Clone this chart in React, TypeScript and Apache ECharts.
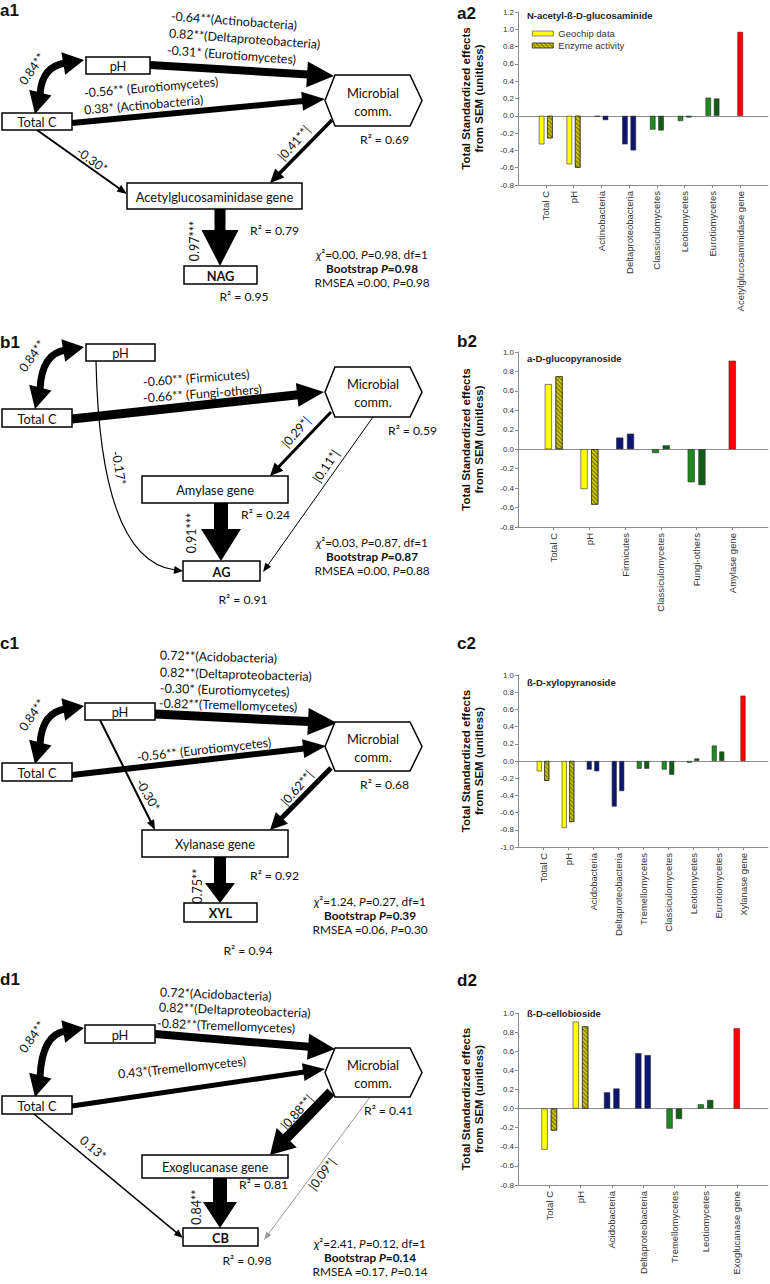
import React, { useEffect, useRef } from 'react';
import * as echarts from 'echarts';

// ---------- DATA ----------
const catsA = ['Total C', 'pH', 'Actinobacteria', 'Deltaproteobacteria', 'Classiculomycetes', 'Leotiomycetes', 'Eurotiomycetes', 'Acetylglucosaminidase gene'];
const typesA = ['env', 'env', 'bac', 'bac', 'fun', 'fun', 'fun', 'gene'];
const geoA = [-0.33, -0.56, -0.01, -0.33, -0.16, -0.06, 0.21, 0.97];
const enzA = [-0.26, -0.6, -0.05, -0.4, -0.17, -0.02, 0.2, null];

const catsB = ['Total C', 'pH', 'Firmicutes', 'Classiculomycetes', 'Fungi-others', 'Amylase gene'];
const typesB = ['env', 'env', 'bac', 'fun', 'fun', 'gene'];
const geoB = [0.67, -0.41, 0.12, -0.04, -0.34, 0.91];
const enzB = [0.75, -0.57, 0.16, 0.04, -0.37, null];

const catsC = ['Total C', 'pH', 'Acidobacteria', 'Deltaproteobacteria', 'Tremellomycetes', 'Classiculomycetes', 'Leotiomycetes', 'Eurotiomycetes', 'Xylanase gene'];
const typesC = ['env', 'env', 'bac', 'bac', 'fun', 'fun', 'fun', 'fun', 'gene'];
const geoC = [-0.12, -0.78, -0.1, -0.53, -0.09, -0.1, -0.02, 0.18, 0.76];
const enzC = [-0.23, -0.71, -0.12, -0.35, -0.09, -0.16, 0.03, 0.11, null];

const catsD = ['Total C', 'pH', 'Acidobacteria', 'Deltaproteobacteria', 'Tremellomycetes', 'Leotiomycetes', 'Exoglucanase gene'];
const typesD = ['env', 'env', 'bac', 'bac', 'fun', 'fun', 'gene'];
const geoD = [-0.43, 0.91, 0.17, 0.58, -0.21, 0.045, 0.84];
const enzD = [-0.23, 0.86, 0.21, 0.56, -0.11, 0.09, null];

const titles = ['N-acetyl-ß-D-glucosaminide', 'a-D-glucopyranoside', 'ß-D-xylopyranoside', 'ß-D-cellobioside'];
const yMin = [-0.8, -0.8, -1.0, -0.8];
const yMax = [1.2, 1.0, 1.0, 1.0];

// ---------- STYLE ----------
const AF = '"Liberation Sans", Arial, sans-serif';
const FONT = 'Lato, "Open Sans", sans-serif';
const GEO: any = { env: '#FFFF00', bac: '#0B1670', fun: '#1F8A1F' };
const ENZ: any = { env: '#C9C300', bac: '#0B1670', fun: '#0F5E14' };
const HATCH = { symbol: 'rect', symbolSize: 1, color: 'rgba(40,40,0,0.55)', dashArrayX: [1, 0], dashArrayY: [1, 1.6], rotation: Math.PI / 4 };

const grids = [
  { top: 12, height: 173 },
  { top: 352, height: 175 },
  { top: 675, height: 172 },
  { top: 1013, height: 172 },
];
const titleTops = [10, 353, 677, 1008];

// ---------- DIAGRAM HELPERS ----------
function T(x: number, y: number, text: string, o: any = {}) {
  return {
    type: 'text', x, y, rotation: o.rot || 0, z: 20,
    style: {
      text, fontFamily: o.ff || FONT, fontSize: o.size || 12.5, fontWeight: o.bold ? 'bold' : 'normal',
      fill: '#111', align: o.align || 'center', verticalAlign: 'middle', rich: o.rich,
    },
  };
}
function box(x: number, y: number, w: number, h: number, label: string, bold = false) {
  return [
    { type: 'rect', z: 10, shape: { x, y, width: w, height: h }, style: { fill: '#fff', stroke: '#000', lineWidth: 1.5 } },
    T(x + w / 2, y + h / 2 + 0.5, label, { size: 12.8, bold }),
  ];
}
function hexagon(top: number, bot: number) {
  const m = (top + bot) / 2;
  return [
    { type: 'polygon', z: 10, shape: { points: [[335, top], [410, top], [422, m], [410, bot], [335, bot], [325, m]] }, style: { fill: '#fff', stroke: '#000', lineWidth: 1.5 } },
    T(373, m - 8, 'Microbial', { size: 12.8 }),
    T(373, m + 10, 'comm.', { size: 12.8 }),
  ];
}
function head(tx: number, ty: number, dx: number, dy: number, hl: number, hw: number, color = '#000') {
  const L = Math.hypot(dx, dy); const ux = dx / L; const uy = dy / L;
  const bx = tx - ux * hl; const by = ty - uy * hl; const px = -uy; const py = ux;
  return { type: 'polygon', z: 5, shape: { points: [[tx, ty], [bx + px * hw / 2, by + py * hw / 2], [bx - px * hw / 2, by - py * hw / 2]] }, style: { fill: color } };
}
function arrow(x1: number, y1: number, x2: number, y2: number, lw: number, hl: number, hw: number, color = '#000') {
  const dx = x2 - x1; const dy = y2 - y1; const L = Math.hypot(dx, dy); const ux = dx / L; const uy = dy / L;
  const bx = x2 - ux * (hl - 1); const by = y2 - uy * (hl - 1);
  return [
    { type: 'line', z: 5, shape: { x1, y1, x2: bx, y2: by }, style: { stroke: color, lineWidth: lw } },
    head(x2, y2, dx, dy, hl, hw, color),
  ];
}
function dbl(t1x: number, t1y: number, t2x: number, t2y: number) {
  const s = [t1x - 18, t1y + 3];
  const e = [t2x + 5, t2y - 20];
  return [
    { type: 'bezierCurve', z: 5, shape: { x1: s[0], y1: s[1], x2: e[0], y2: e[1], cpx1: e[0] + 2, cpy1: s[1] + 3 }, style: { stroke: '#000', lineWidth: 7, fill: null } },
    head(t1x, t1y, 1, -0.17, 21, 23),
    head(t2x, t2y, -0.25, 1, 22, 23),
    T(t1x - 52, t1y + 9, '0.84**', { rot: 0.95 }),
  ];
}
function stats(cx: number, y: number, chi: string, p1: string, pb: string, rm: string, p2: string) {
  const fs = 11.8;
  const rich = {
    n: { fontFamily: FONT, fontSize: fs, fill: '#111' },
    i: { fontFamily: FONT, fontSize: fs, fontStyle: 'italic', fill: '#111' },
    b: { fontFamily: FONT, fontSize: fs, fontWeight: 'bold', fill: '#111' },
    bi: { fontFamily: FONT, fontSize: fs, fontWeight: 'bold', fontStyle: 'italic', fill: '#111' },
  };
  return [
    T(cx, y, `{i|χ}{n|²=${chi}, }{i|P}{n|=${p1}, df=1}`, { rich }),
    T(cx, y + 14, `{b|Bootstrap }{bi|P}{b|=${pb}}`, { rich }),
    T(cx, y + 28, `{n|RMSEA =${rm}, }{i|P}{n|=${p2}}`, { rich }),
  ];
}
const lab = (x: number, y: number, t: string) => T(x, y, t, { ff: AF, size: 17, bold: true, align: 'left' });
const R2 = (x: number, y: number, t: string, align = 'left') => T(x, y, t, { size: 12.2, align });

function diagram() {
  const el: any[] = [];
  // panel labels
  el.push(lab(0, 10, 'a1'), lab(457, 13, 'a2'), lab(0, 342, 'b1'), lab(457, 341, 'b2'), lab(0, 643, 'c1'), lab(457, 643, 'c2'), lab(0, 979, 'd1'), lab(457, 980, 'd2'));

  // ---- a1 ----
  el.push(...dbl(84, 60, 35, 114));
  el.push(...arrow(150, 65, 334, 76, 8, 27, 26));
  el.push(...arrow(72, 123, 325, 99, 6, 23, 19));
  el.push(...arrow(37, 130, 127, 194, 2, 10, 8));
  el.push(...arrow(332, 120, 270, 183, 3.5, 14, 13));
  el.push(...arrow(220, 209, 220, 266, 11, 36, 37));
  el.push(...box(86, 57, 64, 17, 'pH'), ...box(2, 113, 70, 17, 'Total C'), ...hexagon(75, 126));
  el.push(...box(127, 183, 175, 26, 'Acetylglucosaminidase gene'), ...box(184, 266, 73, 18, 'NAG', true));
  el.push(T(171, 16, '-0.64**(Actinobacteria)', { align: 'left', rot: -0.075 }));
  el.push(T(169, 33, '0.82**(Deltaproteobacteria)', { align: 'left', rot: -0.075 }));
  el.push(T(167, 50, '-0.31* (Eurotiomycetes)', { align: 'left', rot: -0.075 }));
  el.push(T(84, 93, '-0.56** (Eurotiomycetes)', { align: 'left', rot: 0.085 }));
  el.push(T(84, 110, '0.38* (Actinobacteria)', { align: 'left', rot: 0.085 }));
  el.push(T(92, 160, '-0.30*', { rot: -0.62 }));
  el.push(T(294, 143, '|0.41**|', { rot: 0.85 }));
  el.push(T(194, 241, '0.97***', { rot: Math.PI / 2 }));
  el.push(R2(360, 139, 'R² = 0.69'));
  el.push(R2(250, 230, 'R² = 0.79'));
  el.push(R2(244, 296, 'R² = 0.95', 'center'));
  el.push(...stats(372, 254, '0.00', '0.98', '0.98', '0.00', '0.98'));

  // ---- b1 ----
  el.push(...dbl(84, 347, 35, 409));
  el.push(...arrow(72, 419, 324, 392, 9, 27, 24));
  el.push({ type: 'bezierCurve', z: 5, shape: { x1: 96, y1: 361, x2: 175, y2: 570, cpx1: 100, cpy1: 560 }, style: { stroke: '#000', lineWidth: 1.2, fill: null } });
  el.push(head(183, 571, 1, 0.12, 9, 8));
  el.push(...arrow(331, 412, 270, 476, 3, 13, 12));
  el.push(...arrow(373, 417, 263, 572, 1, 9, 7));
  el.push(...arrow(221, 503, 221, 561, 14, 32, 40));
  el.push(...box(86, 344, 69, 17, 'pH'), ...box(2, 409, 70, 18, 'Total C'), ...hexagon(367, 417));
  el.push(...box(142, 476, 146, 27, 'Amylase gene'), ...box(183, 561, 77, 20, 'AG', true));
  el.push(T(143, 382, '-0.60** (Firmicutes)', { align: 'left', rot: 0.075 }));
  el.push(T(143, 398, '-0.66** (Fungi-others)', { align: 'left', rot: 0.075 }));
  el.push(T(119, 468, '-0.17*', { rot: -1.4 }));
  el.push(T(296, 432, '|0.29*|', { rot: 0.85 }));
  el.push(T(326, 466, '|0.11*|', { rot: 0.97 }));
  el.push(T(191, 533, '0.91***', { rot: Math.PI / 2 }));
  el.push(R2(388, 430, 'R² = 0.59'));
  el.push(R2(241, 514, 'R² = 0.24'));
  el.push(R2(243, 599, 'R² = 0.91', 'center'));
  el.push(...stats(372, 542, '0.03', '0.87', '0.87', '0.00', '0.88'));

  // ---- c1 ----
  el.push(...dbl(84, 706, 35, 764));
  el.push(...arrow(155, 714, 337, 723, 9, 29, 27));
  el.push(...arrow(72, 775, 326, 746, 6, 23, 19));
  el.push(...arrow(100, 720, 155, 830, 2, 10, 8));
  el.push(...arrow(331, 768, 270, 830, 5, 17, 17));
  el.push(...arrow(220, 857, 220, 903, 12, 20, 30));
  el.push(...box(85, 703, 70, 17, 'pH'), ...box(2, 763, 70, 18, 'Total C'), ...hexagon(722, 771));
  el.push(...box(142, 830, 146, 27, 'Xylanase gene'), ...box(184, 903, 73, 19, 'XYL', true));
  el.push(T(160, 655, '0.72**(Acidobacteria)', { align: 'left', rot: -0.03 }));
  el.push(T(160, 672, '0.82**(Deltaproteobacteria)', { align: 'left', rot: -0.03 }));
  el.push(T(160, 688, '-0.30* (Eurotiomycetes)', { align: 'left', rot: -0.03 }));
  el.push(T(159, 703, '-0.82**(Tremellomycetes)', { align: 'left', rot: -0.03 }));
  el.push(T(137, 757, '-0.56** (Eurotiomycetes)', { align: 'left', rot: 0.11 }));
  el.push(T(148, 795, '-0.30*', { rot: -1.05 }));
  el.push(T(297, 788, '|0.62**|', { rot: 0.85 }));
  el.push(T(197, 886, '0.75**', { rot: Math.PI / 2 }));
  el.push(R2(360, 784, 'R² = 0.68'));
  el.push(R2(250, 875, 'R² = 0.92'));
  el.push(R2(248, 950, 'R² = 0.94', 'center'));
  el.push(...stats(370, 901, '1.24', '0.27', '0.39', '0.06', '0.30'));

  // ---- d1 ----
  el.push(...dbl(84, 1028, 35, 1097));
  el.push(...arrow(155, 1034, 335, 1049, 8, 27, 26));
  el.push(...arrow(72, 1106, 325, 1069, 5, 22, 18));
  el.push(...arrow(34, 1114, 183, 1238, 1.5, 9, 7));
  el.push(...arrow(331, 1092, 270, 1155, 10, 24, 28));
  el.push(...arrow(370, 1097, 264, 1240, 1, 8, 6, '#999'));
  el.push(...arrow(220, 1178, 220, 1228, 14, 26, 34));
  el.push(...box(85, 1025, 70, 18, 'pH'), ...box(2, 1096, 70, 18, 'Total C'), ...hexagon(1048, 1097));
  el.push(...box(142, 1155, 146, 23, 'Exoglucanase gene'), ...box(183, 1228, 75, 18, 'CB', true));
  el.push(T(160, 992, '0.72*(Acidobacteria)', { align: 'left', rot: -0.04 }));
  el.push(T(159, 1007, '0.82**(Deltaproteobacteria)', { align: 'left', rot: -0.04 }));
  el.push(T(157, 1023, '-0.82**(Tremellomycetes)', { align: 'left', rot: -0.04 }));
  el.push(T(118, 1074, '0.43*(Tremellomycetes)', { align: 'left', rot: 0.1 }));
  el.push(T(93, 1148, '0.13*', { rot: -0.7 }));
  el.push(T(297, 1112, '|0.88**|', { rot: 0.85 }));
  el.push(T(322, 1174, '|0.09*|', { rot: 0.93 }));
  el.push(T(196, 1207, '0.84**', { rot: Math.PI / 2 }));
  el.push(R2(364, 1110, 'R² = 0.41'));
  el.push(R2(239, 1184, 'R² = 0.81'));
  el.push(R2(247, 1260, 'R² = 0.98', 'center'));
  el.push(...stats(370, 1243, '2.41', '0.12', '0.14', '0.17', '0.14'));
  return el;
}

// ---------- CHART BUILD ----------
function buildOption() {
  const sets = [
    [catsA, typesA, geoA, enzA],
    [catsB, typesB, geoB, enzB],
    [catsC, typesC, geoC, enzC],
    [catsD, typesD, geoD, enzD],
  ] as any[];
  const grid: any[] = []; const xAxis: any[] = []; const yAxis: any[] = []; const series: any[] = []; const title: any[] = [];
  const axisColor = '#8c8c8c';
  sets.forEach(([cats, types, geo, enz], i) => {
    const g = grids[i];
    grid.push({ left: 518, top: g.top, width: 250, height: g.height, containLabel: false });
    const data = ['', ...cats, ''];
    xAxis.push({
      type: 'category', gridIndex: i, data, boundaryGap: false, position: 'bottom',
      axisLine: { onZero: false, lineStyle: { color: axisColor, width: 1 } },
      axisTick: { show: true, length: 3, lineStyle: { color: axisColor }, interval: (idx: number) => idx > 0 && idx <= cats.length },
      axisLabel: { rotate: 90, fontSize: 9.5, color: '#333', fontFamily: AF, margin: 6, interval: 0 },
      splitLine: { show: false },
    });
    xAxis.push({
      type: 'category', gridIndex: i, data, boundaryGap: false, position: 'bottom',
      axisLine: { onZero: true, lineStyle: { color: axisColor, width: 1 } },
      axisTick: { show: false }, axisLabel: { show: false }, splitLine: { show: false },
    });
    yAxis.push({
      type: 'value', gridIndex: i, min: yMin[i], max: yMax[i], interval: 0.2,
      axisLine: { show: true, lineStyle: { color: axisColor } },
      axisTick: { show: true, length: 3, lineStyle: { color: axisColor } },
      axisLabel: { fontSize: 8, color: '#333', fontFamily: AF, margin: 4, formatter: (v: number) => (Math.abs(v) < 1e-9 ? '0.0' : v.toFixed(1)) },
      splitLine: { show: false },
      name: 'Total Standardized effects\nfrom SEM (unitless)', nameLocation: 'middle', nameGap: 32,
      nameTextStyle: { fontSize: 11.5, fontWeight: 'bold', lineHeight: 13.5, color: '#111', fontFamily: AF },
    });
    const geoData = [null, ...geo.map((v: number, k: number) => (types[k] === 'gene' ? null : { value: v, itemStyle: { color: GEO[types[k]] } })), null];
    const enzData = [null, ...enz.map((v: number | null, k: number) => (types[k] === 'gene' || v === null ? null : {
      value: v, itemStyle: types[k] === 'env' ? { color: ENZ.env, decal: HATCH } : { color: ENZ[types[k]] },
    })), null];
    const geneData = [null, ...geo.map((v: number, k: number) => (types[k] === 'gene' ? v : null)), null];
    const common = { xAxisIndex: 2 * i, yAxisIndex: i, barWidth: '20%', barGap: '50%' };
    series.push({ type: 'bar', name: 'Geochip data', ...common, data: geoData, itemStyle: { color: '#FFFF00', borderColor: '#333', borderWidth: 0.6 } });
    series.push({ type: 'bar', name: 'Enzyme activity', ...common, data: enzData, itemStyle: { color: ENZ.env, borderColor: '#333', borderWidth: 0.6 } });
    series.push({ type: 'bar', name: 'gene', xAxisIndex: 2 * i + 1, yAxisIndex: i, barWidth: '20%', data: geneData, itemStyle: { color: '#FF0000', borderColor: '#7a0000', borderWidth: 0.6 } });
    title.push({ text: titles[i], left: 527, top: titleTops[i], padding: 0, textStyle: { fontSize: 9.5, fontWeight: 'bold', color: '#222', fontFamily: AF } });
  });
  return {
    animation: false,
    backgroundColor: '#fff',
    textStyle: { fontFamily: AF },
    title,
    legend: {
      orient: 'vertical', left: 532, top: 28, itemWidth: 21, itemHeight: 5, itemGap: 1, padding: 0, selectedMode: false,
      textStyle: { fontSize: 9.5, color: '#333', fontFamily: AF, lineHeight: 11 },
      itemStyle: { borderColor: '#444', borderWidth: 0.6 },
      data: [
        { name: 'Geochip data', icon: 'rect', itemStyle: { color: '#FFFF00' } },
        { name: 'Enzyme activity', icon: 'rect', itemStyle: { color: ENZ.env, decal: HATCH } },
      ],
    },
    grid, xAxis, yAxis, series,
    graphic: { elements: diagram() },
  };
}

export default function App() {
  const ref = useRef<HTMLDivElement>(null);
  useEffect(() => {
    if (!ref.current) return;
    const chart = echarts.init(ref.current, undefined, { renderer: 'svg' });
    chart.setOption(buildOption() as any);
    return () => chart.dispose();
  }, []);
  return <div ref={ref} style={{ position: 'absolute', left: 0, top: 0, width: 770, height: 1284, background: '#fff' }} />;
}
